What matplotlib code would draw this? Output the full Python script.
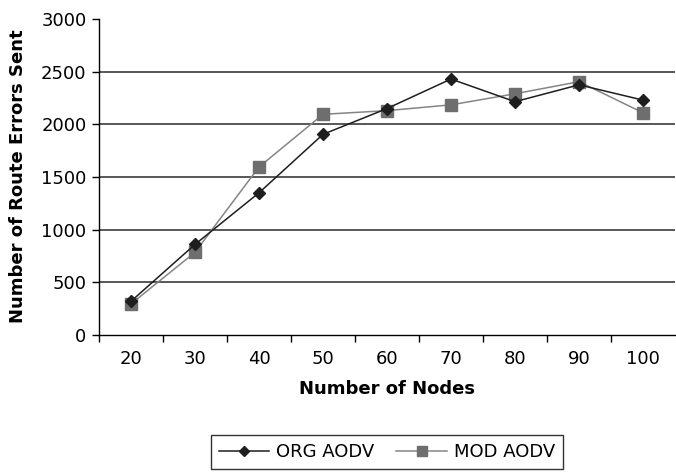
import matplotlib
matplotlib.use("Agg")
import matplotlib.pyplot as plt
import numpy as np

# --- data ---
nodes = ["20", "30", "40", "50", "60", "70", "80", "90", "100"]
org_aodv = [320, 860, 1350, 1905, 2150, 2430, 2215, 2375, 2230]
mod_aodv = [295, 785, 1595, 2095, 2130, 2185, 2290, 2405, 2110]

plt.rcParams['font.family'] = ['DejaVu Sans']
FS = 13

fig = plt.figure(figsize=(6.76, 4.72), dpi=100)
ax = fig.add_axes([99 / 676, 1 - 335 / 472, 576 / 676, 316 / 472])

x = np.arange(len(nodes))

ax.plot(x, org_aodv, color='#1e1e1e', lw=1.1, marker='D', markersize=6.4,
        markerfacecolor='#1e1e1e', markeredgecolor='#1e1e1e', label='ORG AODV', zorder=4)
ax.plot(x, mod_aodv, color='#858585', lw=1.1, marker='s', markersize=8.4,
        markerfacecolor='#6e6e6e', markeredgecolor='#6e6e6e', label='MOD AODV', zorder=3)

ax.set_xlim(-0.5, len(nodes) - 0.5)
ax.set_ylim(0, 3000)
ax.set_yticks(range(0, 3001, 500))

# horizontal grid lines (none at the top)
for v in range(500, 3000, 500):
    ax.axhline(v, color='#2a2a2a', lw=1.1, zorder=1)

ax.set_xticks(x)
ax.set_xticklabels(nodes)
ax.set_xticks(np.arange(-0.5, len(nodes) - 1, 1), minor=True)
ax.tick_params(axis='x', which='major', length=0, pad=11, labelsize=FS)
ax.tick_params(axis='x', which='minor', length=5, width=1, direction='out')
ax.tick_params(axis='y', length=5, width=1, direction='out', pad=4, labelsize=FS)

for side in ['top', 'right']:
    ax.spines[side].set_visible(False)
for side in ['left', 'bottom']:
    ax.spines[side].set_linewidth(1)
    ax.spines[side].set_color('black')

ax.set_xlabel("Number of Nodes", fontsize=FS, fontweight='bold')
ax.set_ylabel("Number of Route Errors Sent", fontsize=FS, fontweight='bold')
ax.xaxis.set_label_coords(0.5, -(380 - 335) / 316)
ax.yaxis.set_label_coords(-(99 - 27) / 576, (335 - 176) / 316)

leg = fig.legend(loc='center', bbox_to_anchor=(387 / 676, 1 - 452 / 472), ncol=2,
                 fontsize=FS, frameon=True, fancybox=False, edgecolor='black',
                 handlelength=2.8, markerscale=0.8, columnspacing=1.2,
                 borderpad=0.45, handletextpad=0.4)
leg.get_frame().set_linewidth(1)

fig.savefig("out.png", dpi=100)
